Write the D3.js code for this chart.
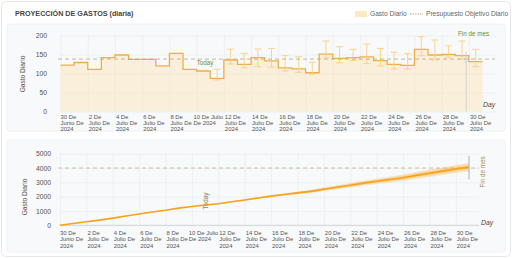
<!DOCTYPE html>
<html>
<head>
<meta charset="utf-8">
<script src="https://cdn.jsdelivr.net/npm/d3@7"></script>
<style>
  body { margin: 0; background: #fff; }
  svg text { font-family: "Liberation Sans", Arial, sans-serif; }
  .grid line { stroke: #e8ebee; stroke-width: 0.6; }
  .grid .domain { display: none; }
  .ylab text { fill: #555; font-size: 6.8px; }
  .ylab line, .ylab .domain { display: none; }
</style>
</head>
<body>
<script>
// Daily spend, day index 0 = 30 Jun 2024 ... 30 = 30 Jul 2024
const dailySpend = [122, 129, 111, 141.6, 148.7, 137, 137, 120, 153, 111,
  106.6, 87, 135.5, 124, 142, 133, 115, 112, 102, 151,
  140, 141.6, 144, 134, 124, 121.5, 163.6, 148.7, 150, 147, 131];

// projection range for the future days
const errDays = [11, 12, 13, 14, 15, 16, 17, 18, 19, 20, 21, 22, 23, 24, 25, 26, 27, 28, 29, 30];
const errLow = [83, 125, 115, 118, 117, 106.6, 103, 98, 141.6, 128, 134, 126, 119.7, 111.8, 111.8, 147, 135.5, 142.6, 138, 118];
const errHigh = [111, 164, 153, 164.5, 166, 147, 144, 129.5, 185.5, 170.6, 163.6, 177.6, 166, 155.8, 152, 197, 188, 173, 185.5, 163.6];

const tickDays = [0, 2, 4, 6, 8, 10, 12, 14, 16, 18, 20, 22, 24, 26, 28, 30];
const tickLabels = [
  ['30 De', 'Junio De', '2024'], ['2 De', 'Julio De', '2024'], ['4 De', 'Julio De', '2024'],
  ['6 De', 'Julio De', '2024'], ['8 De', 'Julio De', '2024'], ['10 De Julio', 'De 2024'],
  ['12 De', 'Julio De', '2024'], ['14 De', 'Julio De', '2024'], ['16 De', 'Julio De', '2024'],
  ['18 De', 'Julio De', '2024'], ['20 De', 'Julio De', '2024'], ['22 De', 'Julio De', '2024'],
  ['24 De', 'Julio De', '2024'], ['26 De', 'Julio De', '2024'], ['28 De', 'Julio De', '2024'],
  ['30 De', 'Julio De', '2024']
];

const yTicksTop = [0, 50, 100, 150, 200];
const yTicksBottom = [0, 1000, 2000, 3000, 4000, 5000];

const dailyTarget = 138;
const monthTarget = 4000;
const todayDay = 10;

// spread of the cumulative projection band (outer edge)
const bandDays = [10, 15, 20, 25, 31];
const bandSpread = [0, 60, 130, 210, 300];

// end-of-month markers
const endRangeTop = [0, 157];
const endRangeBottom = [3200, 4850];

const W = 512, H = 258;
const svg = d3.select('body').append('svg')
  .attr('width', W)
  .attr('height', H);

// card + panels
svg.append('rect').attr('x', 1.5).attr('y', 1.5).attr('width', W - 3).attr('height', H - 3)
  .attr('rx', 4).attr('fill', '#fff').attr('stroke', '#e6e8eb');
svg.append('rect').attr('x', 7).attr('y', 24).attr('width', 498).attr('height', 107)
  .attr('rx', 3).attr('fill', '#f7f9fa').attr('stroke', '#eef0f2');
svg.append('rect').attr('x', 7).attr('y', 140).attr('width', 498).attr('height', 112)
  .attr('rx', 3).attr('fill', '#f7f9fa').attr('stroke', '#eef0f2');

svg.append('text').attr('x', 15).attr('y', 16.3)
  .attr('font-size', 7.2).attr('font-weight', 700).attr('fill', '#444')
  .text('PROYECCIÓN DE GASTOS (diaria)');

// legend
svg.append('rect').attr('x', 355).attr('y', 11).attr('width', 12).attr('height', 6).attr('fill', '#fde8c6');
svg.append('text').attr('x', 370).attr('y', 16.3).attr('font-size', 6.6).attr('fill', '#666').text('Gasto Diario');
svg.append('line').attr('x1', 410).attr('x2', 423).attr('y1', 14).attr('y2', 14)
  .attr('stroke', '#c2a878').attr('stroke-width', 1).attr('stroke-dasharray', '1.5,1');
svg.append('text').attr('x', 426).attr('y', 16.3).attr('font-size', 6.6).attr('fill', '#666').text('Presupuesto Objetivo Diario');

function xLabels(g, x, yTop) {
  tickDays.forEach((d, i) => {
    const t = g.append('text').attr('font-size', 5.9).attr('fill', '#555');
    tickLabels[i].forEach((s, j) => {
      t.append('tspan').attr('x', 0).attr('y', yTop + j * 6.2).text(s);
    });
    const w = t.node().getBBox().width;
    t.attr('transform', `translate(${x(d) + 12 - w / 2},0)`);
  });
}

// ---------- top chart: daily spend ----------
const topL = 59.5, topR = 497;
const xTop = d3.scaleLinear().domain([0, 31]).range([60.5, 482.5]);
const yTop = d3.scaleLinear().domain([0, 200]).range([111.5, 35.5]);

svg.append('g').attr('class', 'grid')
  .attr('transform', `translate(${topL},0)`)
  .call(d3.axisLeft(yTop).tickValues(yTicksTop).tickSize(-(topR - topL)).tickFormat(''));
svg.append('g').attr('class', 'grid')
  .attr('transform', `translate(0,${yTop(0)})`)
  .call(d3.axisBottom(xTop).tickValues(tickDays).tickSize(-(yTop(0) - yTop(200))).tickFormat(''));
svg.append('g').attr('class', 'ylab')
  .attr('transform', `translate(${topL},0)`)
  .call(d3.axisLeft(yTop).tickValues(yTicksTop).tickSize(0).tickPadding(12.5).tickFormat(d3.format('d')));

const stepPts = dailySpend.map((v, i) => [i, v]).concat([[31, dailySpend[30]]]);

svg.append('path')
  .datum(stepPts)
  .attr('fill', '#fde3b4')
  .attr('fill-opacity', 0.45)
  .attr('d', d3.area().curve(d3.curveStepAfter)
    .x(d => xTop(d[0])).y0(yTop(0)).y1(d => yTop(d[1])));

svg.append('path')
  .datum(stepPts)
  .attr('fill', 'none')
  .attr('stroke', '#f0ae48')
  .attr('stroke-width', 1.3)
  .attr('d', d3.line().curve(d3.curveStepAfter).x(d => xTop(d[0])).y(d => yTop(d[1])));

// error bars
const eb = svg.append('g').attr('stroke', '#f9cf80').attr('stroke-width', 0.9);
errDays.forEach((d, i) => {
  const cx = xTop(d + 0.5);
  eb.append('line').attr('x1', cx).attr('x2', cx).attr('y1', yTop(errLow[i])).attr('y2', yTop(errHigh[i]));
  eb.append('line').attr('x1', cx - 3.5).attr('x2', cx + 3.5).attr('y1', yTop(errLow[i])).attr('y2', yTop(errLow[i]));
  eb.append('line').attr('x1', cx - 3.5).attr('x2', cx + 3.5).attr('y1', yTop(errHigh[i])).attr('y2', yTop(errHigh[i]));
});

svg.append('line')
  .attr('x1', 58).attr('x2', 495)
  .attr('y1', yTop(dailyTarget)).attr('y2', yTop(dailyTarget))
  .attr('stroke', '#b5a68c').attr('stroke-width', 0.8).attr('stroke-dasharray', '4,3');

// end of month rule
svg.append('line')
  .attr('x1', xTop(29.8)).attr('x2', xTop(29.8))
  .attr('y1', yTop(endRangeTop[0])).attr('y2', yTop(endRangeTop[1]))
  .attr('stroke', '#cfd2d6').attr('stroke-width', 1);

svg.append('text').attr('x', xTop(todayDay)).attr('y', yTop(dailyTarget) + 6.3)
  .attr('font-size', 6.3).attr('fill', '#6f8f3c').text('Today');
svg.append('text').attr('x', 458).attr('y', 35.8)
  .attr('font-size', 6.3).attr('fill', '#6f8f3c').text('Fin de mes');
svg.append('text').attr('x', 483).attr('y', 106.5)
  .attr('font-size', 6.8).attr('font-style', 'italic').attr('fill', '#444').text('Day');

svg.append('text')
  .attr('transform', `translate(25,74) rotate(-90)`)
  .attr('text-anchor', 'middle').attr('font-size', 6.6).attr('fill', '#555')
  .text('Gasto Diario');

xLabels(svg.append('g'), xTop, 118.6);

// ---------- bottom chart: cumulative spend ----------
const botL = 59.5, botR = 479;
const xBot = d3.scaleLinear().domain([0, 31]).range([60, 469]);
const yBot = d3.scaleLinear().domain([0, 5000]).range([225.3, 153.7]);

svg.append('g').attr('class', 'grid')
  .attr('transform', `translate(${botL},0)`)
  .call(d3.axisLeft(yBot).tickValues(yTicksBottom).tickSize(-(botR - botL)).tickFormat(''));
svg.append('g').attr('class', 'grid')
  .attr('transform', `translate(0,${yBot(0)})`)
  .call(d3.axisBottom(xBot).tickValues(tickDays).tickSize(-(yBot(0) - yBot(5000))).tickFormat(''));
svg.append('line').attr('x1', botL).attr('x2', botR).attr('y1', yBot(0)).attr('y2', yBot(0))
  .attr('stroke', '#c9cdd2').attr('stroke-width', 0.8);
svg.append('g').attr('class', 'ylab')
  .attr('transform', `translate(${botL},0)`)
  .call(d3.axisLeft(yBot).tickValues(yTicksBottom).tickSize(0).tickPadding(8.5).tickFormat(d3.format('d')));

const cumSpend = [0, ...d3.cumsum(dailySpend)];
const cumPts = cumSpend.map((v, i) => [i, v]);

svg.append('line')
  .attr('x1', 58).attr('x2', botR)
  .attr('y1', yBot(monthTarget)).attr('y2', yBot(monthTarget))
  .attr('stroke', '#c8b08a').attr('stroke-width', 0.8).attr('stroke-dasharray', '4,3');

// projection band, three layers
const spreadAt = d3.scaleLinear().domain(bandDays).range(bandSpread).clamp(true);
const future = cumPts.filter(d => d[0] >= todayDay);
[1, 0.66, 0.33].forEach(f => {
  svg.append('path')
    .datum(future)
    .attr('fill', '#ffa41c')
    .attr('fill-opacity', 0.22)
    .attr('d', d3.area()
      .x(d => xBot(d[0]))
      .y0(d => yBot(d[1] - f * spreadAt(d[0])))
      .y1(d => yBot(d[1] + f * spreadAt(d[0]))));
});

svg.append('path')
  .datum(cumPts)
  .attr('fill', 'none')
  .attr('stroke', '#f7a21b')
  .attr('stroke-width', 1.6)
  .attr('d', d3.line().x(d => xBot(d[0])).y(d => yBot(d[1])));

svg.append('line')
  .attr('x1', xBot(31)).attr('x2', xBot(31))
  .attr('y1', yBot(endRangeBottom[0])).attr('y2', yBot(endRangeBottom[1]))
  .attr('stroke', '#b9bcc0').attr('stroke-width', 1.2);

svg.append('text')
  .attr('transform', `translate(${xBot(todayDay) + 16.5},201) rotate(-90)`)
  .attr('text-anchor', 'middle').attr('font-size', 6.3).attr('fill', '#8c7c5c')
  .text('Today');
svg.append('text')
  .attr('transform', `translate(484.5,172) rotate(-90)`)
  .attr('text-anchor', 'middle').attr('font-size', 6.3).attr('fill', '#a88e55')
  .text('Fin de mes');
svg.append('text').attr('x', 481).attr('y', 224.5)
  .attr('font-size', 6.8).attr('font-style', 'italic').attr('fill', '#444').text('Day');

svg.append('text')
  .attr('transform', `translate(26.5,197) rotate(-90)`)
  .attr('text-anchor', 'middle').attr('font-size', 6.6).attr('fill', '#555')
  .text('Gasto Diario');

xLabels(svg.append('g'), xBot, 235.2);
</script>
</body>
</html>
